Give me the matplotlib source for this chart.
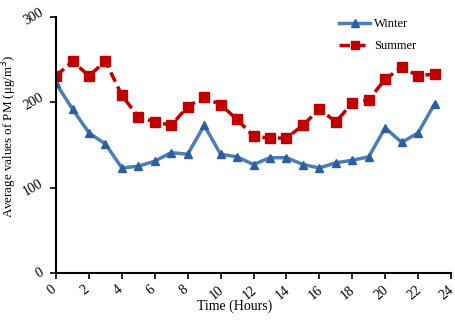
import numpy as np
import matplotlib.pyplot as plt
import matplotlib.transforms as mtransforms

plt.rcParams['font.family'] = ['Liberation Serif', 'DejaVu Serif']

hours = list(range(24))
winter = [222, 192, 164, 151, 123, 125, 131, 141, 139, 173, 139, 136,
          127, 135, 135, 127, 123, 129, 132, 136, 170, 153, 164, 198]
summer = [231, 248, 231, 248, 208, 183, 177, 173, 195, 206, 197, 180,
          160, 158, 158, 173, 192, 177, 199, 203, 227, 241, 231, 233]

fig = plt.figure(figsize=(4.56, 3.26), dpi=100)
ax = fig.add_axes([0.123, 0.163, 0.866, 0.785])

ax.plot(hours, winter, color='#4a7ebb', lw=2.5, marker='^', ms=6,
        mfc='#2c5f9e', mec='#2c5f9e', label='Winter')
ax.plot(hours, summer, color='#c00000', lw=2.5, ls=(0, (3, 1.5)), marker='s', ms=7,
        mfc='#c00000', mec='#c00000', label='Summer')

ax.set_xlim(0, 24)
ax.set_ylim(0, 300)
ax.set_xticks(range(0, 25, 2))
ax.set_yticks([0, 100, 200, 300])
for s in ['top', 'right']:
    ax.spines[s].set_visible(False)
ax.spines['left'].set_linewidth(1.5)
ax.spines['bottom'].set_linewidth(1.5)
ax.tick_params(direction='out', length=4, width=1.2, labelsize=10)
shift = mtransforms.ScaledTranslation(-4 / 100, 0, fig.dpi_scale_trans)
for lab in ax.get_xticklabels():
    lab.set_rotation(40)
    lab.set_ha('center')
    lab.set_transform(lab.get_transform() + shift)
plt.setp(ax.get_yticklabels(), rotation=30, va='center')

ax.set_xlabel('Time (Hours)', fontsize=10)
ax.xaxis.set_label_coords(0.453, -0.105)
ax.set_ylabel('Average values of PM (μg/m$^3$)', fontsize=9.4)
ax.yaxis.set_label_coords(-0.094, 0.533)

ax.legend(loc='upper right', bbox_to_anchor=(0.94, 1.04), frameon=False,
          fontsize=9, handlelength=2.5, labelspacing=0.8, handletextpad=0.3,
          markerscale=0.85)

fig.savefig('out.png', dpi=100)
